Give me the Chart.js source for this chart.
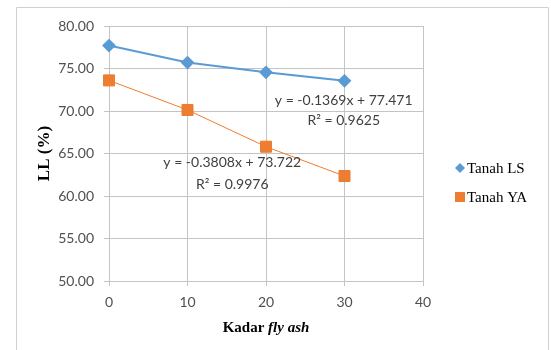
<!DOCTYPE html>
<html>
<head>
<meta charset="utf-8">
<script src="https://cdn.jsdelivr.net/npm/chart.js@4/dist/chart.umd.min.js"></script>
<style>
  body{margin:0;background:#fff;}
  canvas{display:block;}
</style>
</head>
<body>
<canvas id="c" width="551" height="350"></canvas>
<script>
// data
const kadar=[0,10,20,30];
const tanahLS=[77.7,75.7,74.55,73.55];
const tanahYA=[73.6,70.12,65.8,62.35];
const seriesNames=["Tanah LS","Tanah YA"];
const trendLS=["y = -0.1369x + 77.471","R² = 0.9625"];
const trendYA=["y = -0.3808x + 73.722","R² = 0.9976"];
// where the trend labels sit, in data units (x, y of each line)
const trendLSAt=[29.9,71.2,68.9];
const trendYAAt=[15.7,63.9,61.3];

const blue="#5b9bd5", orange="#ed7d31";
const serif="'Liberation Serif','Times New Roman',serif";
const sans="Lato,'Open Sans',sans-serif";

const extras={
  id:"extras",
  beforeDraw(chart){
    const ctx=chart.ctx;
    ctx.save();
    ctx.strokeStyle="#d0d0d0";
    ctx.lineWidth=1;
    ctx.beginPath();
    ctx.moveTo(16.5,360);ctx.lineTo(16.5,7.5);ctx.lineTo(548.5,7.5);ctx.lineTo(548.5,360);
    ctx.stroke();
    ctx.restore();
  },
  afterDraw(chart){
    const ctx=chart.ctx, xs=chart.scales.x, ys=chart.scales.y, area=chart.chartArea;
    ctx.save();
    // trendline equations
    ctx.fillStyle="#404040";
    ctx.font="14px "+sans;
    ctx.textAlign="center";ctx.textBaseline="middle";
    [[trendLS,trendLSAt],[trendYA,trendYAAt]].forEach(([t,at])=>{
      const x=xs.getPixelForValue(at[0]);
      ctx.fillText(t[0],x,ys.getPixelForValue(at[1]));
      ctx.fillText(t[1],x,ys.getPixelForValue(at[2]));
    });
    // x title, "fly ash" in italics
    const cx=(area.left+area.right)/2, ty=328;
    const p1="Kadar ", p2="fly ash";
    ctx.font="bold 15px "+serif;
    const w1=ctx.measureText(p1).width;
    ctx.font="bold italic 15px "+serif;
    const w2=ctx.measureText(p2).width;
    let sx=cx-(w1+w2)/2;
    ctx.textAlign="left";ctx.fillStyle="#000";
    ctx.font="bold 15px "+serif;ctx.fillText(p1,sx,ty);
    ctx.font="bold italic 15px "+serif;ctx.fillText(p2,sx+w1,ty);
    // legend
    const lx=460, ly=[168,197];
    chart.data.datasets.forEach((ds,i)=>{
      ctx.fillStyle=ds.pointBackgroundColor;
      ctx.beginPath();
      if(ds.pointStyle==="rectRot"){
        ctx.moveTo(lx,ly[i]-5);ctx.lineTo(lx+5,ly[i]);ctx.lineTo(lx,ly[i]+5);ctx.lineTo(lx-5,ly[i]);
        ctx.closePath();ctx.fill();
      }else{
        ctx.fillRect(lx-5,ly[i]-5,10,10);
      }
      ctx.fillStyle="#000";
      ctx.font="15px "+serif;
      ctx.fillText(ds.label,lx+7,ly[i]+1);
    });
    ctx.restore();
  }
};

new Chart(document.getElementById("c"),{
  type:"scatter",
  data:{
    datasets:[
      {label:seriesNames[0],data:kadar.map((x,i)=>({x:x,y:tanahLS[i]})),showLine:true,clip:false,
       borderColor:blue,borderWidth:2,backgroundColor:blue,pointBackgroundColor:blue,pointBorderColor:blue,
       pointStyle:"rectRot",pointRadius:5.5},
      {label:seriesNames[1],data:kadar.map((x,i)=>({x:x,y:tanahYA[i]})),showLine:true,clip:false,
       borderColor:orange,borderWidth:1,backgroundColor:orange,pointBackgroundColor:orange,pointBorderColor:orange,
       pointStyle:"rect",pointRadius:7.8}
    ]
  },
  options:{
    responsive:false,
    animation:false,
    layout:{padding:{left:16,top:26,right:128,bottom:0}},
    plugins:{legend:{display:false},tooltip:{enabled:false}},
    scales:{
      x:{type:"linear",min:0,max:40,
         ticks:{stepSize:10,color:"#505050",font:{family:sans,size:14},padding:8},
         grid:{color:"#c4c4c4",tickLength:5},
         border:{color:"#c4c4c4"},
         afterFit(s){s.height=69;}},
      y:{min:50,max:80,
         ticks:{stepSize:5,color:"#505050",font:{family:sans,size:14},padding:10,
                callback:v=>v.toFixed(2)},
         grid:{color:"#c4c4c4",tickLength:5},
         border:{color:"#c4c4c4"},
         title:{display:true,text:"LL (%)",color:"#000",font:{family:serif,size:17,weight:"bold"},padding:{top:18,bottom:0}},
         afterFit(s){s.width=93;}}
    }
  },
  plugins:[extras]
});
</script>
</body>
</html>
